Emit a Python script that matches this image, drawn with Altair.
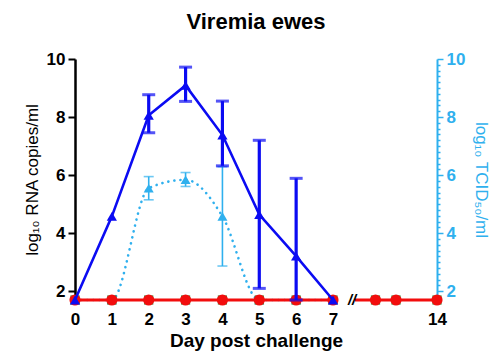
import altair as alt
import pandas as pd

# ---- data ----
days = [0, 1, 2, 3, 4, 5, 6, 7]
rna_mean = [1.7, 4.58, 8.06, 9.09, 7.38, 4.64, 3.21, 1.7]
rna_err_days = [2, 3, 4, 5, 6]
rna_low = [7.46, 8.54, 6.32, 2.10, 1.70]
rna_high = [8.77, 9.72, 8.55, 7.20, 5.89]

tcid_mean = [1.7, 1.7, 5.55, 5.84, 4.58, 1.7, 1.7, 1.7]
tcid_err_days = [2, 3, 4]
tcid_low = [5.15, 5.61, 2.87]
tcid_high = [5.95, 6.09, 6.29]

ctrl_days_a = [0, 1, 2, 3, 4, 5, 6, 7]
ctrl_days_b = [11, 12, 14]
ctrl_line_b = [10, 11, 12, 14]
ctrl_value = 1.7
break_day = [9.6]

x_ticks = [0, 1, 2, 3, 4, 5, 6, 7, 14]
y_ticks = [2, 4, 6, 8, 10]
minor_ticks = [round(1.8 + 0.2 * i, 1) for i in range(42)]

BLUE = "#0B0BF2"
LBLUE = "#2FB0EE"
RED = "#F20D0D"
GREEN = "#3A8A3A"
FONT = "Liberation Sans"

rna = pd.DataFrame({"day": days, "v": rna_mean})
rna_err = pd.DataFrame({"day": rna_err_days, "lo": rna_low, "hi": rna_high})
tcid = pd.DataFrame({"day": days, "v": tcid_mean})
tcid_err = pd.DataFrame({"day": tcid_err_days, "lo": tcid_low, "hi": tcid_high})
ctrl_pts = pd.DataFrame({"day": ctrl_days_a + ctrl_days_b, "v": [ctrl_value] * (len(ctrl_days_a) + len(ctrl_days_b))})
ctrl_line = pd.DataFrame({
    "day": ctrl_days_a + ctrl_line_b,
    "v": [ctrl_value] * (len(ctrl_days_a) + len(ctrl_line_b)),
    "seg": ["a"] * len(ctrl_days_a) + ["b"] * len(ctrl_line_b),
})
brk = pd.DataFrame({"day": break_day, "v": [ctrl_value], "t": ["//"]})

xscale = alt.Scale(domain=[0, 7, 10, 14], range=[0, 258, 280, 362], nice=False, zero=False)
xenc = alt.X("day:Q", scale=xscale, title="Day post challenge",
             axis=alt.Axis(values=x_ticks, domain=False, ticks=False, grid=False,
                           labelFontSize=17, labelFontWeight="bold", labelPadding=11,
                           labelColor="black", titleFontSize=19, titleFontWeight="bold",
                           titleColor="black", titlePadding=4, labelFlush=False))

yscale = alt.Scale(domain=[1.7, 10], nice=False, zero=False)
left_axis = alt.Axis(values=y_ticks, grid=False, domainColor="black", domainWidth=2.5,
                     tickColor="black", tickWidth=2, tickSize=7, labelFontSize=17,
                     labelFontWeight="bold", labelColor="black", labelPadding=3,
                     title="log₁₀ RNA copies/ml", titleFontSize=17, titleFontWeight="normal",
                     titleColor="black", titlePadding=5)
right_axis = alt.Axis(orient="right", values=minor_ticks, grid=False, domainColor=LBLUE,
                      domainWidth=2, tickColor=LBLUE, tickWidth=1.5,
                      tickSize={"condition": {"test": "abs(datum.value - round(datum.value)) < 0.01 && round(datum.value) % 2 == 0", "value": 6}, "value": 3},
                      labelExpr="(abs(datum.value - round(datum.value)) < 0.01 && round(datum.value) % 2 == 0) ? format(round(datum.value), 'd') : ''",
                      labelFontSize=17, labelFontWeight="bold", labelColor=LBLUE,
                      labelPadding=3, title="log₁₀ TCID₅₀/ml", titleFontSize=17,
                      titleFontWeight="normal", titleColor=LBLUE, titlePadding=7)

# ---- TCID50 group (right axis) ----
y_r = alt.Y("v:Q", scale=yscale, axis=right_axis)
lb_line = alt.Chart(tcid).mark_line(color=LBLUE, strokeWidth=2.6, strokeDash=[0.1, 6],
                                    strokeCap="round", interpolate="monotone").encode(x=xenc, y=y_r)
lb_rule = alt.Chart(tcid_err).mark_rule(color=LBLUE, strokeWidth=1.6).encode(
    x="day:Q", y=alt.Y("lo:Q", scale=yscale, axis=right_axis), y2="hi:Q")
lb_cap_lo = alt.Chart(tcid_err).mark_tick(color=LBLUE, orient="horizontal", size=10, thickness=1.6).encode(
    x="day:Q", y=alt.Y("lo:Q", scale=yscale, axis=right_axis))
lb_cap_hi = alt.Chart(tcid_err).mark_tick(color=LBLUE, orient="horizontal", size=10, thickness=1.6).encode(
    x="day:Q", y=alt.Y("hi:Q", scale=yscale, axis=right_axis))
lb_pts = alt.Chart(tcid).mark_point(shape="triangle-up", filled=True, color=LBLUE, opacity=1, size=100).encode(
    x="day:Q", y=y_r)
lb_group = alt.layer(lb_line, lb_rule, lb_cap_lo, lb_cap_hi, lb_pts)

# ---- RNA + control group (left axis) ----
y_l = alt.Y("v:Q", scale=yscale, axis=left_axis)
red_line = alt.Chart(ctrl_line).mark_line(color=RED, strokeWidth=2.8).encode(
    x=xenc, y=y_l, detail="seg:N")
green_sq = alt.Chart(ctrl_pts).mark_point(shape="square", filled=True, color=GREEN, opacity=1, size=85).encode(
    x="day:Q", y=y_l)
red_pts = alt.Chart(ctrl_pts).mark_point(shape="circle", filled=True, color=RED, opacity=1, size=125).encode(
    x="day:Q", y=y_l)
brk_txt = alt.Chart(brk).mark_text(text="//", fontSize=15, fontWeight="bold", fontStyle="italic",
                                   color="black", font=FONT, baseline="middle", align="center").encode(
    x="day:Q", y=y_l)
b_line = alt.Chart(rna).mark_line(color=BLUE, strokeWidth=2.6).encode(x="day:Q", y=y_l)
b_rule = alt.Chart(rna_err).mark_rule(color=BLUE, strokeWidth=3.2).encode(
    x="day:Q", y=alt.Y("lo:Q", scale=yscale, axis=left_axis), y2="hi:Q")
b_cap_lo = alt.Chart(rna_err).mark_tick(color=BLUE, orient="horizontal", size=13, thickness=3).encode(
    x="day:Q", y=alt.Y("lo:Q", scale=yscale, axis=left_axis))
b_cap_hi = alt.Chart(rna_err).mark_tick(color=BLUE, orient="horizontal", size=13, thickness=3).encode(
    x="day:Q", y=alt.Y("hi:Q", scale=yscale, axis=left_axis))
b_pts = alt.Chart(rna).mark_point(shape="triangle-up", filled=True, color=BLUE, opacity=1, size=105).encode(
    x="day:Q", y=y_l)
main_group = alt.layer(red_line, green_sq, red_pts, brk_txt, b_line, b_rule, b_cap_lo, b_cap_hi, b_pts)

chart = alt.layer(lb_group, main_group).resolve_scale(y="independent").properties(
    width=362, height=241,
    title=alt.TitleParams("Viremia ewes", fontSize=22, fontWeight="bold", font=FONT,
                          anchor="middle", color="black", offset=16),
    autosize=alt.AutoSizeParams(type="none"),
    padding={"left": 67, "top": 51, "right": 55, "bottom": 55},
).configure(font=FONT).configure_view(stroke=None)

chart.save("out.html", embed_options={"renderer": "svg", "actions": False})
